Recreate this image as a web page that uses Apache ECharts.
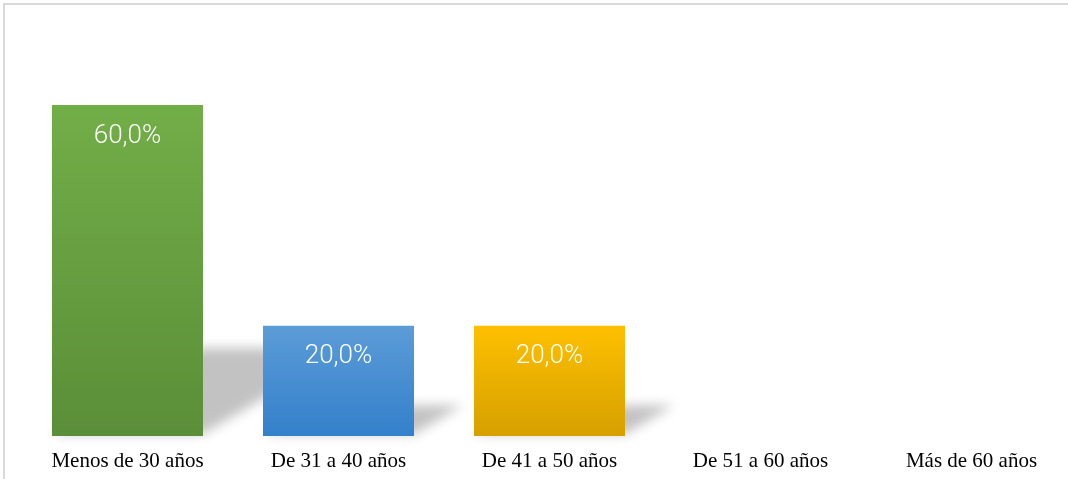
<!DOCTYPE html>
<html>
<head>
<meta charset="utf-8">
<script src="https://cdn.jsdelivr.net/npm/echarts@6/dist/echarts.min.js"></script>
<style>
  html, body { margin: 0; padding: 0; background: #fff; overflow: hidden; }
  #main { width: 1068px; height: 479px; }
</style>
</head>
<body>
<div id="main"></div>
<script>
let categories = ['Menos de 30 años', 'De 31 a 40 años', 'De 41 a 50 años', 'De 51 a 60 años', 'Más de 60 años'];
let percents = [60, 20, 20, 0, 0];

// office-like top/bottom colours for each bar
let topColors = ['#72ae48', '#5c9cd7', '#fec000', '#a5a5a5', '#ed7d31'];
let bottomColors = ['#5b8e38', '#3380cb', '#d6a000', '#8a8a8a', '#c96520'];

let myChart = echarts.init(document.getElementById('main'));

let BAR_W = 151;
let FAR = 3000; // shadow shape is drawn off screen, only its blur is shown

let barData = percents.map(function (v, i) {
    return {
        value: v,
        itemStyle: {
            color: new echarts.graphic.LinearGradient(0, 0, 0, 1, [
                { offset: 0, color: topColors[i] },
                { offset: 1, color: bottomColors[i] }
            ])
        }
    };
});

let options = {
    animation: false,
    graphic: [
        {
            type: 'line', z: 0,
            shape: { x1: 3, y1: 4, x2: 1068, y2: 4 },
            style: { stroke: '#d9d9d9', lineWidth: 2 }
        },
        {
            type: 'line', z: 0,
            shape: { x1: 4, y1: 3, x2: 4, y2: 479 },
            style: { stroke: '#d9d9d9', lineWidth: 2 }
        }
    ],
    grid: {
        left: 22,
        width: 1055,
        top: 105,
        bottom: 43,
        outerBoundsMode: 'none'
    },
    xAxis: {
        type: 'category',
        data: categories,
        axisLine: { show: false },
        axisTick: { show: false },
        axisLabel: {
            color: '#000',
            fontFamily: '"Liberation Serif", "Times New Roman", serif',
            fontSize: 21,
            margin: 15
        }
    },
    yAxis: {
        type: 'value',
        min: 0,
        max: 60,
        show: false,
        splitLine: { show: false }
    },
    series: [
        {
            // perspective shadow behind each bar
            type: 'custom',
            z: 1,
            clip: false,
            data: percents.map(function (v, i) { return [i, v]; }),
            renderItem: function (params, api) {
                let v = api.value(1);
                if (!v) return null;
                let base = api.coord([api.value(0), 0]);
                let top = api.coord([api.value(0), v]);
                let hh = (base[1] - top[1]) * 0.26;
                let s = hh * 1.7;
                let x0 = base[0] - BAR_W / 2 - FAR;
                let x1 = base[0] + BAR_W / 2 - FAR;
                let yb = base[1] - 2;
                return {
                    type: 'polygon',
                    shape: {
                        points: [[x0, yb], [x1, yb], [x1 + s, yb - hh], [x0 + s, yb - hh]]
                    },
                    style: {
                        fill: '#000',
                        shadowBlur: 12,
                        shadowOffsetX: FAR,
                        shadowColor: 'rgba(0,0,0,0.24)'
                    }
                };
            }
        },
        {
            type: 'bar',
            z: 2,
            barWidth: BAR_W,
            data: barData,
            label: {
                show: true,
                position: 'insideTop',
                distance: 18,
                color: '#fff',
                fontFamily: 'Roboto, "Liberation Sans", sans-serif',
                fontWeight: 300,
                fontSize: 26,
                formatter: function (p) {
                    if (!p.value) return '';
                    return p.value.toFixed(1).replace('.', ',') + '%';
                }
            }
        }
    ]
};
myChart.setOption(options);
</script>
</body>
</html>
